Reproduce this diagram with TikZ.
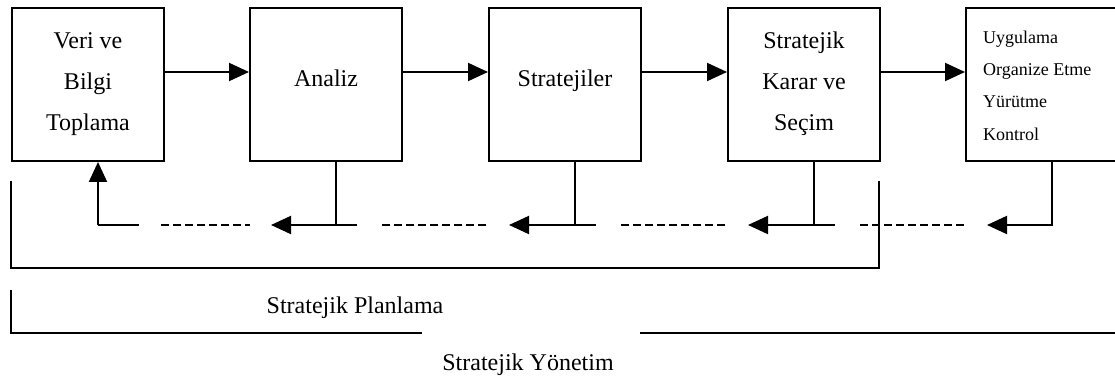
\documentclass[tikz,border=0pt]{standalone}
\usepackage{fontspec}
\setmainfont{Liberation Serif}
\usetikzlibrary{arrows.meta}
\begin{document}
\begin{tikzpicture}[x=1pt,y=-1pt,
  box/.style={draw,line width=2pt,minimum width=152pt,minimum height=153pt,inner sep=0pt,anchor=north west},
  bigtxt/.style={inner sep=0pt,align=center,font=\fontsize{24}{41}\selectfont},
  smalltxt/.style={inner sep=0pt,align=left,font=\fontsize{18}{32.3}\selectfont},
  conn/.style={line width=2pt},
  arr/.style={line width=2pt,-{Triangle[length=20pt,width=18pt]}},
  dashline/.style={line width=2pt,dash pattern=on 8pt off 4pt},
  thinline/.style={line width=1.3pt}]
\useasboundingbox (0,0) rectangle (1115,379);
\clip (0,0) rectangle (1115,379);
% boxes
\node[box] (b1) at (11,7) {};
\node[box] (b2) at (249,7) {};
\node[box] (b3) at (488,7) {};
\node[box] (b4) at (727,7) {};
\node[box] (b5) at (965,7) {};
% texts
\node[bigtxt,anchor=north] (l1) at ([yshift=-25pt]b1.north) {Veri ve\\Bilgi\\Toplama};
\node[bigtxt,anchor=base] (l2) at ([yshift=-80pt]b2.north) {Analiz};
\node[bigtxt,anchor=base] (l3) at ([yshift=-80pt]b3.north) {Stratejiler};
\node[bigtxt,anchor=north] (l4) at ([yshift=-25pt]b4.north) {Stratejik\\Karar ve\\Seçim};
\node[smalltxt,anchor=north west] (l5) at (983,30.5) {Uygulama\\Organize Etme\\Yürütme\\Kontrol};
% forward arrows
\draw[arr] ([yshift=12.5pt]b1.east) -- ([yshift=12.5pt]b2.west);
\draw[arr] ([yshift=12.5pt]b2.east) -- ([yshift=12.5pt]b3.west);
\draw[arr] ([yshift=12.5pt]b3.east) -- ([yshift=12.5pt]b4.west);
\draw[arr] ([yshift=12.5pt]b4.east) -- ([yshift=12.5pt]b5.west);
% feedback anchor points under boxes
\path ([xshift=10pt]b1.south) coordinate (u1);
\path ([xshift=10pt]b2.south) coordinate (u2);
\path ([xshift=10pt]b3.south) coordinate (u3);
\path ([xshift=10pt]b4.south) coordinate (u4);
\path ([xshift=10pt]b5.south) coordinate (u5);
\coordinate (j1) at (u1 |- 0,225);
\coordinate (j2) at (u2 |- 0,225);
\coordinate (j3) at (u3 |- 0,225);
\coordinate (j4) at (u4 |- 0,225);
\coordinate (s1) at (139,225);
\coordinate (d1a) at (161,225); \coordinate (d1b) at (250,225);
\coordinate (t2) at (271,225); \coordinate (e2) at (357,225);
\coordinate (d2a) at (382,225); \coordinate (d2b) at (487,225);
\coordinate (t3) at (509,225); \coordinate (e3) at (596,225);
\coordinate (d3a) at (621,225); \coordinate (d3b) at (727,225);
\coordinate (t4) at (748,225); \coordinate (e4) at (835,225);
\coordinate (d4a) at (860,225); \coordinate (d4b) at (966,225);
\coordinate (t5) at (987,225);
% feedback lines
\draw[arr] (j1) -- (u1);
\draw[conn] (j1) -- (s1);
\draw[dashline] (d1a) -- (d1b);
\draw[conn] (u2) -- (j2);
\draw[arr] (e2) -- (t2);
\draw[dashline] (d2a) -- (d2b);
\draw[conn] (u3) -- (j3);
\draw[arr] (e3) -- (t3);
\draw[dashline] (d3a) -- (d3b);
\draw[conn] (u4) -- (j4);
\draw[arr] (e4) -- (t4);
\draw[dashline] (d4a) -- (d4b);
\draw[arr] (u5) |- (t5);
% brackets
\coordinate (p1) at (11,181); \coordinate (p2) at (879,268); \coordinate (p3) at (879,181);
\draw[conn] (p1) |- (p2) -- (p3);
\coordinate (q1) at (11,290); \coordinate (q2) at (248,333); \coordinate (q3) at (422,333);
\coordinate (q4) at (640,333); \coordinate (q5) at (1118,333);
\draw[conn] (q1) |- (q2);
\draw[thinline] (q2) -- (q3);
\draw[conn] (q4) -- (q5);
% labels
\node[bigtxt,anchor=base] (sp) at (355,313) {Stratejik Planlama};
\node[bigtxt,anchor=base] (sy) at (528,370) {Stratejik Yönetim};
\end{tikzpicture}
\end{document}
